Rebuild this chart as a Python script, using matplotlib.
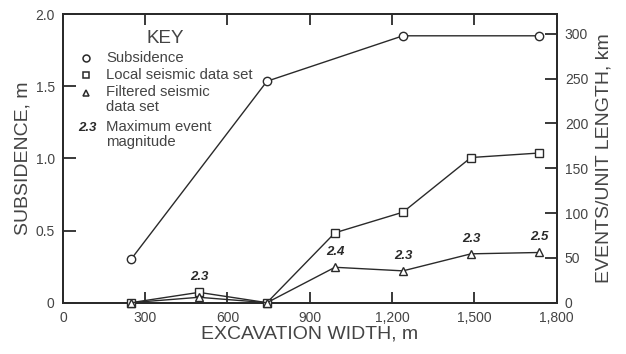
# Subsidence and seismic events vs excavation width, two y-axes.

import matplotlib
matplotlib.use("Agg")
import matplotlib.pyplot as plt

plt.rcParams["font.family"] = ["Liberation Sans", "DejaVu Sans"]

INK = "#2a2a2a"
TXT = "#444444"

# excavation widths where the panels were measured (m)
widths = [248, 496, 744, 992, 1240, 1488, 1736]

# subsidence only measured at every other panel
subs_widths = [248, 744, 1240, 1736]
subsidence = [0.30, 1.535, 1.85, 1.85]

# events / unit length, km
local_events = [0, 11.5, 0, 78, 101, 162, 167]
filtered_events = [0, 6, 0, 39.5, 35.5, 54.5, 56]

# maximum event magnitude labels: (width index, label, which series it sits above)
mag_idx = [1, 3, 4, 5, 6]
mag_labels = ["2.3", "2.4", "2.3", "2.3", "2.5"]
mag_on_local = [True, False, False, False, False]

x_ticks = [0, 300, 600, 900, 1200, 1500, 1800]
x_ticklabels = ["0", "300", "600", "900", "1,200", "1,500", "1,800"]
left_ticks = [0, 0.5, 1.0, 1.5, 2.0]
left_ticklabels = ["0", "0.5", "1.0", "1.5", "2.0"]
right_ticks = [0, 50, 100, 150, 200, 250, 300]

fig = plt.figure(figsize=(6.26, 3.54), dpi=100)
ax = fig.add_axes([0.1006, 0.145, 0.7884, 0.815])
ax2 = ax.twinx()

ax.set_xlim(0, 1800)
ax.set_ylim(0, 2.0)
ax2.set_ylim(0, 322)

line_kw = dict(color=INK, lw=1.0, markerfacecolor="white", markeredgecolor=INK,
               markeredgewidth=1.0, clip_on=False, zorder=3)
ax.plot(subs_widths, subsidence, marker="o", ms=6, **line_kw)
ax2.plot(widths, local_events, marker="s", ms=6, **line_kw)
ax2.plot(widths, filtered_events, marker="^", ms=6, **line_kw)

for i, lab, on_local in zip(mag_idx, mag_labels, mag_on_local):
    yv = local_events[i] if on_local else filtered_events[i]
    ax2.annotate(lab, (widths[i], yv), xytext=(0, 11), textcoords="offset points",
                 ha="center", va="center", fontsize=9.5, fontweight="bold",
                 fontstyle="italic", color=INK)

# ticks and spines
for a in (ax, ax2):
    for s in a.spines.values():
        s.set_color(INK)
        s.set_linewidth(1.3)
ax.set_xticks(x_ticks)
ax.set_xticklabels(x_ticklabels)
ax.set_yticks(left_ticks)
ax.set_yticklabels(left_ticklabels)
ax2.set_yticks(right_ticks)
ax.tick_params(axis="x", direction="in", length=8, width=1.3, top=True,
               labelsize=10, color=INK, labelcolor=TXT, pad=6)
ax.tick_params(axis="y", direction="in", length=9, width=1.3,
               labelsize=10, color=INK, labelcolor=TXT, pad=6)
ax2.tick_params(axis="y", direction="in", length=9, width=1.3,
                labelsize=10, color=INK, labelcolor=TXT, pad=6)

ax.set_xlabel("EXCAVATION WIDTH, m", fontsize=14, color=TXT, labelpad=0)
ax.set_ylabel("SUBSIDENCE, m", fontsize=14, color=TXT, labelpad=3)
ax2.set_ylabel("EVENTS/UNIT LENGTH, km", fontsize=14, color=TXT, labelpad=5)

# hand-drawn key in the upper left
tr = ax.transAxes
ax.text(0.207, 0.917, "KEY", transform=tr, ha="center", va="center",
        fontsize=13.5, color=TXT)
key_marks = ["o", "s", "^"]
key_y = [0.848, 0.788, 0.726]
for mk, yy in zip(key_marks, key_y):
    ax.plot([0.047], [yy], marker=mk, ms=5, transform=tr, color=INK,
            markerfacecolor="white", markeredgewidth=1.1, clip_on=False)

key_txt = ["Subsidence", "Local seismic data set", "Filtered seismic\ndata set",
           "Maximum event\nmagnitude"]
key_txt_y = [0.848, 0.788, 0.755, 0.634]
for txt, yy in zip(key_txt, key_txt_y):
    ax.text(0.087, yy, txt, transform=tr, ha="left",
            va="top" if "\n" in txt else "center",
            fontsize=10.7, color=TXT, linespacing=1.12)
ax.text(0.069, 0.605, "2.3", transform=tr, ha="right", va="center",
        fontsize=9.5, fontweight="bold", fontstyle="italic", color=INK)

fig.savefig("out.png", dpi=100)
